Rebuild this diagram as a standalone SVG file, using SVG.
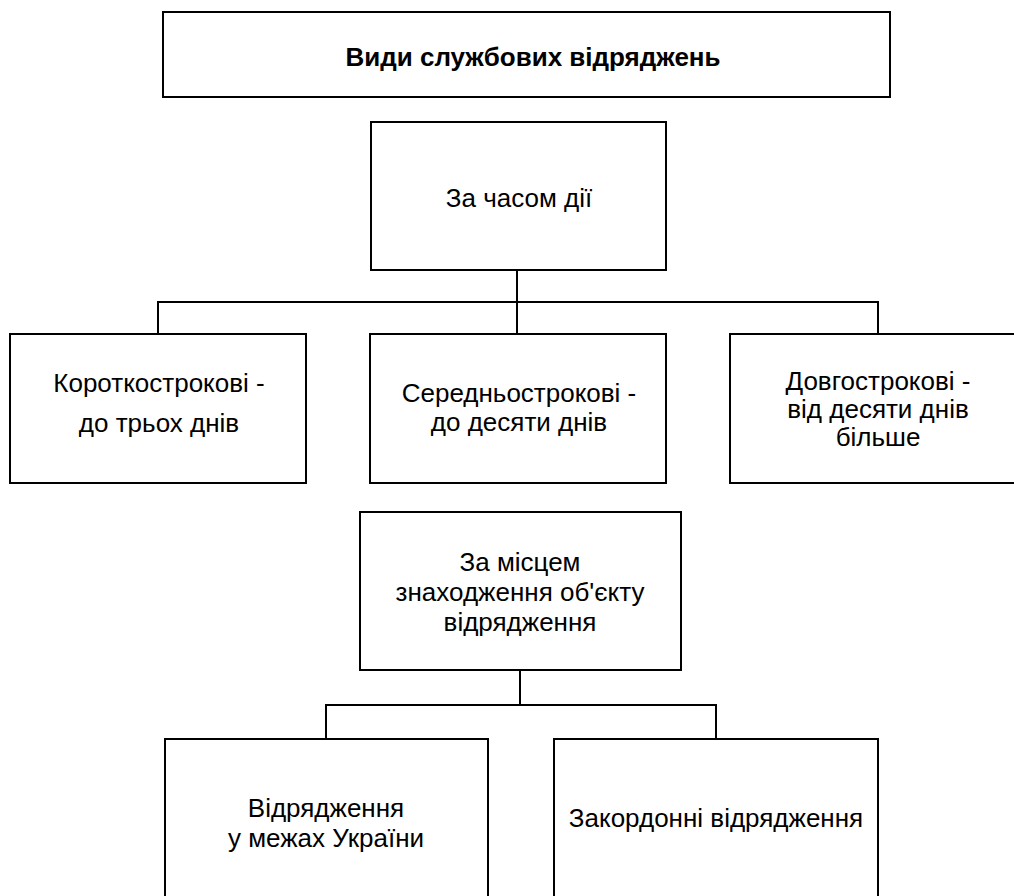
<svg xmlns="http://www.w3.org/2000/svg" width="1014" height="896" viewBox="0 0 1014 896">
<style>
.box{fill:#fff;stroke:#000;stroke-width:2}
.t{font-family:"Liberation Sans",Arial,sans-serif;font-size:26px;text-anchor:middle;fill:#000}
.b{font-weight:bold}
.c{fill:none;stroke:#000;stroke-width:2}
</style>
<rect width="1014" height="896" fill="#fff"/>
<g id="connectors">
<path class="c" d="M517 270V302M158 334V302H878V334M517 302V334"/>
<path class="c" d="M520 670V705M326 739V705H716V739"/>
</g>
<g id="title"><rect class="box" x="163" y="12" width="727" height="85"/><text class="t b" x="533" y="66">Види службових відряджень</text></g>
<g id="time"><rect class="box" x="371" y="122" width="295" height="148"/><text class="t" x="519" y="207">За часом дії</text></g>
<g id="short"><rect class="box" x="10" y="334" width="296" height="149"/><text class="t" x="159" y="392">Короткострокові -</text><text class="t" x="159" y="432">до трьох днів</text></g>
<g id="medium"><rect class="box" x="370" y="334" width="296" height="149"/><text class="t" x="519" y="402">Середньострокові -</text><text class="t" x="519" y="431">до десяти днів</text></g>
<g id="long"><rect class="box" x="730" y="334" width="296" height="149"/><text class="t" x="878" y="390">Довгострокові -</text><text class="t" x="878" y="418">від десяти днів</text><text class="t" x="878" y="446">більше</text></g>
<g id="place"><rect class="box" x="360" y="512" width="321" height="158"/><text class="t" x="520" y="571">За місцем</text><text class="t" x="520" y="601">знаходження об'єкту</text><text class="t" x="520" y="631">відрядження</text></g>
<g id="domestic"><rect class="box" x="165" y="739" width="323" height="170"/><text class="t" x="326" y="817">Відрядження</text><text class="t" x="326" y="847">у межах України</text></g>
<g id="foreign"><rect class="box" x="554" y="739" width="324" height="170"/><text class="t" x="716" y="827">Закордонні відрядження</text></g>
</svg>
